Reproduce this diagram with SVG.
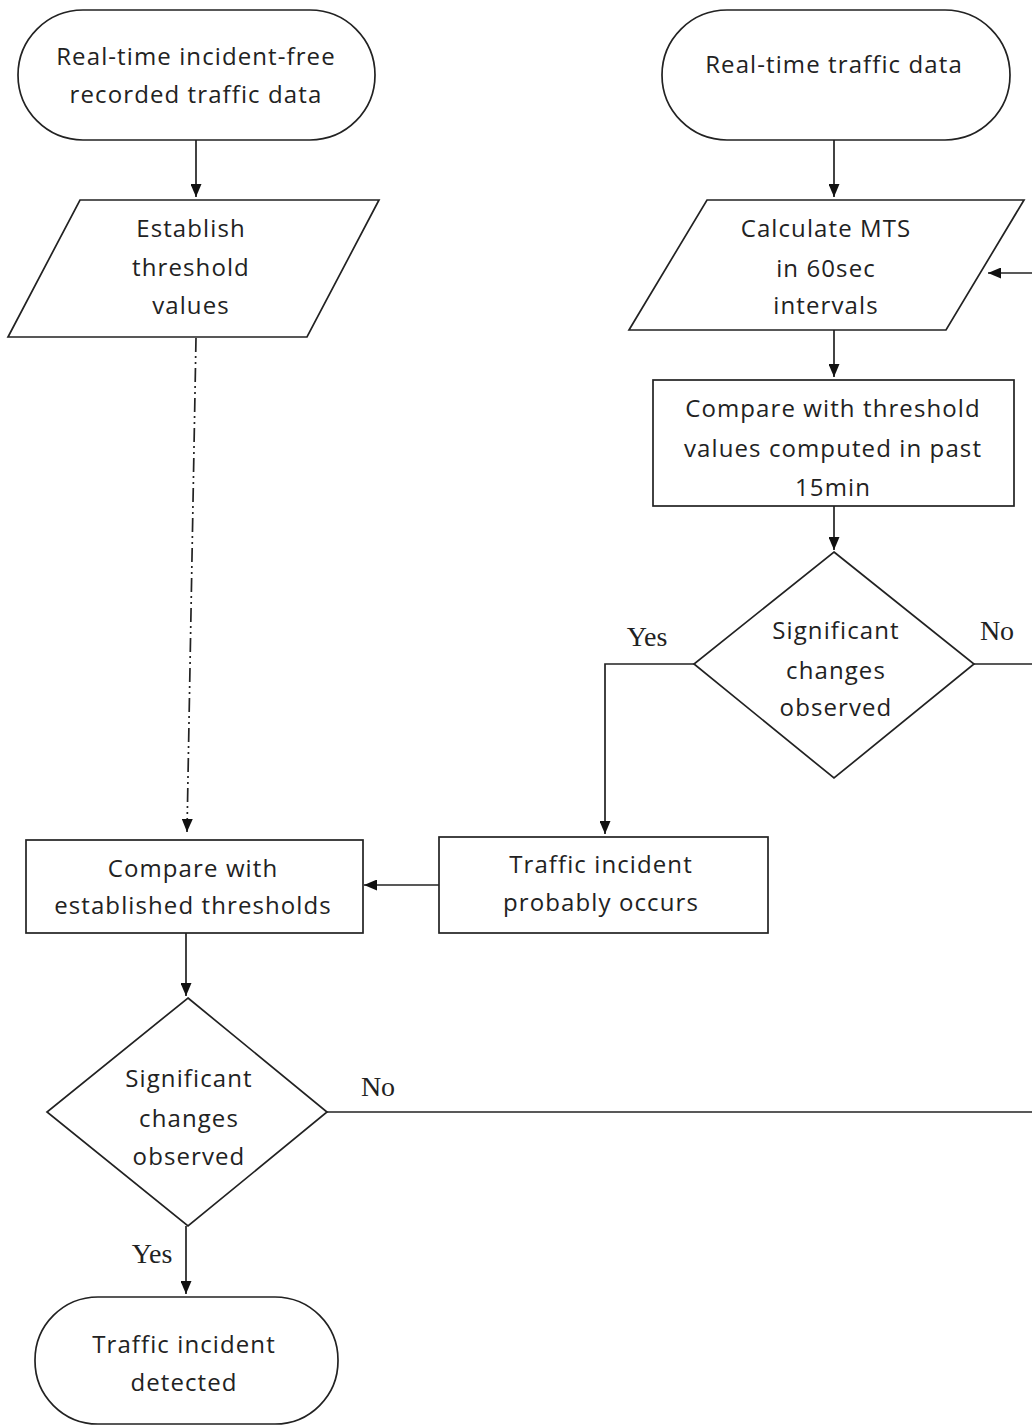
<svg xmlns="http://www.w3.org/2000/svg" width="1032" height="1426" viewBox="0 0 1032 1426">
<style>
.s{fill:#fff;stroke:#222;stroke-width:1.7}
.t{font-family:"Open Sans","Liberation Sans",sans-serif;font-size:24px;letter-spacing:1.1px;fill:#222;text-anchor:middle}
.y{font-family:"Liberation Serif",serif;font-size:28px;fill:#222;text-anchor:middle}
.c{fill:none;stroke:#222;stroke-width:1.7}
</style>
<defs>
<marker id="a" viewBox="0 0 13 11" refX="13" refY="5.5" markerWidth="13" markerHeight="11" markerUnits="userSpaceOnUse" orient="auto">
<path d="M0,0 L13,5.5 L0,11 Z" fill="#111"/>
</marker>
</defs>
<rect x="0" y="0" width="1032" height="1426" fill="#fff"/>
<g id="connectors">
<line class="c" x1="196" y1="338" x2="187" y2="832" stroke-dasharray="14,4,2,4,2,4" marker-end="url(#a)"/>
<line class="c" x1="196" y1="140" x2="196" y2="197" marker-end="url(#a)"/>
<line class="c" x1="834" y1="140" x2="834" y2="197" marker-end="url(#a)"/>
<line class="c" x1="834" y1="330" x2="834" y2="377" marker-end="url(#a)"/>
<line class="c" x1="834" y1="506" x2="834" y2="550" marker-end="url(#a)"/>
<polyline class="c" points="694,664 605,664 605,834" marker-end="url(#a)"/>
<line class="c" x1="974" y1="664" x2="1032" y2="664"/>
<line class="c" x1="1032" y1="273" x2="988" y2="273" marker-end="url(#a)"/>
<line class="c" x1="439" y1="885" x2="364" y2="885" marker-end="url(#a)"/>
<line class="c" x1="186" y1="933" x2="186" y2="996" marker-end="url(#a)"/>
<line class="c" x1="327" y1="1112" x2="1032" y2="1112"/>
<line class="c" x1="186" y1="1226" x2="186" y2="1294" marker-end="url(#a)"/>
<text class="y" x="647" y="646">Yes</text>
<text class="y" x="997" y="640">No</text>
<text class="y" x="378" y="1096">No</text>
<text class="y" x="152" y="1263">Yes</text>
</g>
<g id="n1">
<rect class="s" x="18" y="10" width="357" height="130" rx="65"/>
<text class="t" x="196" y="65">Real-time incident-free</text>
<text class="t" x="196" y="103">recorded traffic data</text>
</g>
<g id="n2">
<polygon class="s" points="80,200 379,200 307,337 8,337"/>
<text class="t" x="191" y="237">Establish</text>
<text class="t" x="191" y="276">threshold</text>
<text class="t" x="191" y="314">values</text>
</g>
<g id="n3">
<rect class="s" x="662" y="10" width="348" height="130" rx="65"/>
<text class="t" x="834" y="73">Real-time traffic data</text>
</g>
<g id="n4">
<polygon class="s" points="707,200 1024,200 946,330 629,330"/>
<text class="t" x="826" y="237">Calculate MTS</text>
<text class="t" x="826" y="277">in 60sec</text>
<text class="t" x="826" y="314">intervals</text>
</g>
<g id="n5">
<rect class="s" x="653" y="380" width="361" height="126"/>
<text class="t" x="833" y="417">Compare with threshold</text>
<text class="t" x="833" y="457">values computed in past</text>
<text class="t" x="833" y="496">15min</text>
</g>
<g id="n6">
<polygon class="s" points="834,552 974,664 834,778 694,664"/>
<text class="t" x="836" y="639">Significant</text>
<text class="t" x="836" y="679">changes</text>
<text class="t" x="836" y="716">observed</text>
</g>
<g id="n7">
<rect class="s" x="439" y="837" width="329" height="96"/>
<text class="t" x="601" y="873">Traffic incident</text>
<text class="t" x="601" y="911">probably occurs</text>
</g>
<g id="n8">
<rect class="s" x="26" y="840" width="337" height="93"/>
<text class="t" x="193" y="877">Compare with</text>
<text class="t" x="193" y="914">established thresholds</text>
</g>
<g id="n9">
<polygon class="s" points="188,998 327,1112 188,1226 47,1112"/>
<text class="t" x="189" y="1087">Significant</text>
<text class="t" x="189" y="1127">changes</text>
<text class="t" x="189" y="1165">observed</text>
</g>
<g id="n10">
<rect class="s" x="35" y="1297" width="303" height="127" rx="63"/>
<text class="t" x="184" y="1353">Traffic incident</text>
<text class="t" x="184" y="1391">detected</text>
</g>
</svg>
